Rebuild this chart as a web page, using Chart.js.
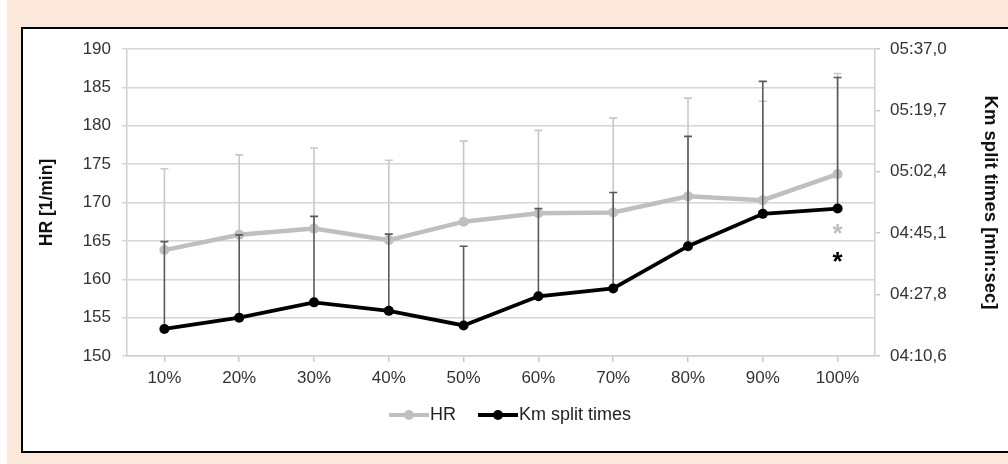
<!DOCTYPE html>
<html lang="en">
<head>
    <meta charset="UTF-8">
    <title>HR and Km split times</title>
    <script src="https://cdn.jsdelivr.net/npm/chart.js"></script>
    <style>
        html, body { margin: 0; padding: 0; }
        body { width: 1008px; height: 464px; background: #fbe8da; position: relative; overflow: hidden; }
        #strip { position: absolute; left: 0; top: 0; width: 7px; height: 464px; background: #fff; }
        #box { position: absolute; left: 21px; top: 27px; width: 987px; height: 422px;
               background: #fff; border-left: 2px solid #000; border-top: 2px solid #000; border-bottom: 2px solid #000; }
        #myChart { position: absolute; left: 0; top: 0; }
    </style>
</head>
<body>
    <div id="strip"></div>
    <div id="box"></div>
    <canvas id="myChart" width="1008" height="464"></canvas>

    <script>
        // datos
        var categories = ['10%', '20%', '30%', '40%', '50%', '60%', '70%', '80%', '90%', '100%'];
        var hrMean = [163.8, 165.8, 166.6, 165.1, 167.5, 168.6, 168.7, 170.8, 170.3, 173.7];
        var hrSd   = [10.6, 10.4, 10.5, 10.4, 10.5, 10.8, 12.3, 12.8, 12.9, 13.1];
        // tiempos por km en segundos
        var kmMean = [258.2, 261.4, 265.7, 263.3, 259.2, 267.4, 269.6, 281.5, 290.6, 292.1];
        var kmSd   = [24.6, 23.3, 24.2, 21.6, 22.3, 24.7, 27.0, 30.9, 37.3, 36.9];
        var kmTicks = [250.6, 267.88, 285.16, 302.44, 319.72, 337.0];
        var kmTickLabels = ['04:10,6', '04:27,8', '04:45,1', '05:02,4', '05:19,7', '05:37,0'];
        var asteriskHr = 166.5;   // asterisco gris (eje HR)
        var asteriskKm = 278.3;   // asterisco negro (eje km)

        var fontFam = '"Liberation Sans", Arial, sans-serif';

        // icono de leyenda: 20px vacios a la izquierda + linea con punto
        function legendIcon(color) {
            var c = document.createElement('canvas');
            c.width = 60; c.height = 12;
            var g = c.getContext('2d');
            g.strokeStyle = color; g.lineWidth = 4;
            g.beginPath(); g.moveTo(20, 6); g.lineTo(60, 6); g.stroke();
            g.fillStyle = color;
            g.beginPath(); g.arc(40, 6, 5, 0, Math.PI * 2); g.fill();
            return c;
        }

        var errorBars = {
            id: 'errorBars',
            beforeDatasetDraw: function(chart, args) {
                var ds = chart.data.datasets[args.index];
                if (!ds.sd) return;
                var meta = args.meta;
                var scale = chart.scales[ds.yAxisID];
                var ctx = chart.ctx;
                ctx.save();
                ctx.strokeStyle = ds.errColor;
                ctx.lineWidth = 1.6;
                meta.data.forEach(function(pt, i) {
                    var y0 = scale.getPixelForValue(ds.data[i]);
                    var y1 = scale.getPixelForValue(ds.data[i] + ds.sd[i]);
                    ctx.beginPath();
                    ctx.moveTo(pt.x, y0); ctx.lineTo(pt.x, y1);
                    ctx.moveTo(pt.x - 4, y1); ctx.lineTo(pt.x + 4, y1);
                    ctx.stroke();
                });
                ctx.restore();
            }
        };

        var asterisks = {
            id: 'asterisks',
            afterDatasetsDraw: function(chart) {
                var ctx = chart.ctx;
                var x = chart.scales.x.getPixelForValue(categories.length - 1);
                ctx.save();
                ctx.font = 'bold 26px ' + fontFam;
                ctx.textAlign = 'center';
                ctx.textBaseline = 'middle';
                ctx.fillStyle = '#c0c0c0';
                ctx.fillText('*', x, chart.scales.y.getPixelForValue(asteriskHr) + 5);
                ctx.fillStyle = '#000';
                ctx.fillText('*', x, chart.scales.y2.getPixelForValue(asteriskKm) + 5);
                ctx.restore();
            }
        };

        var ctx = document.getElementById('myChart').getContext('2d');
        var myChart = new Chart(ctx, {
            type: 'line',
            data: {
                labels: categories,
                datasets: [{
                    label: 'HR',
                    data: hrMean,
                    sd: hrSd,
                    errColor: '#c8c8c8',
                    yAxisID: 'y',
                    borderColor: '#bfbfbf',
                    backgroundColor: '#bfbfbf',
                    borderWidth: 4.5,
                    pointRadius: 5,
                    pointBorderWidth: 0,
                    tension: 0,
                    order: 1
                }, {
                    label: 'Km split times',
                    data: kmMean,
                    sd: kmSd,
                    errColor: '#5a5a5a',
                    yAxisID: 'y2',
                    borderColor: '#000',
                    backgroundColor: '#000',
                    borderWidth: 3.8,
                    pointRadius: 5,
                    pointBorderWidth: 0,
                    tension: 0,
                    order: 0
                }]
            },
            options: {
                responsive: false,
                animation: false,
                layout: { padding: { top: 49, left: 0, right: 0, bottom: 30 } },
                plugins: {
                    tooltip: { enabled: false },
                    legend: {
                        position: 'bottom',
                        labels: {
                            usePointStyle: true,
                            pointStyleWidth: 44,
                            padding: 10,
                            color: '#222',
                            font: { family: fontFam, size: 18 },
                            sort: function(a, b) { return a.datasetIndex - b.datasetIndex; },
                            generateLabels: function(chart) {
                                return chart.data.datasets.map(function(ds, i) {
                                    return {
                                        text: ds.label,
                                        datasetIndex: i,
                                        pointStyle: legendIcon(ds.borderColor),
                                        fillStyle: ds.borderColor,
                                        strokeStyle: ds.borderColor,
                                        lineWidth: 0,
                                        fontColor: '#222'
                                    };
                                });
                            }
                        }
                    }
                },
                scales: {
                    x: {
                        offset: true,
                        grid: { display: true, drawOnChartArea: false, offset: false, tickLength: 6, color: '#c8c8c8', lineWidth: 1.5 },
                        border: { display: true, color: '#d0d0d0', width: 1.5 },
                        ticks: { color: '#333', padding: 6, font: { family: fontFam, size: 17 } },
                        afterFit: function(s) { s.height = 40; }
                    },
                    y: {
                        position: 'left',
                        min: 150,
                        max: 190,
                        ticks: { stepSize: 5, color: '#333', padding: 11, font: { family: fontFam, size: 17 } },
                        grid: { color: '#d6d6d6', lineWidth: 1.5, tickLength: 5 },
                        border: { color: '#d0d0d0', width: 1.5 },
                        title: { display: true, text: 'HR [1/min]', color: '#111',
                                 font: { family: fontFam, size: 17.5, weight: 'bold' }, padding: { top: 37, bottom: 0 } },
                        afterFit: function(s) { s.width = 127; }
                    },
                    y2: {
                        position: 'right',
                        min: kmTicks[0],
                        max: kmTicks[kmTicks.length - 1],
                        afterBuildTicks: function(s) {
                            s.ticks = kmTicks.map(function(v) { return { value: v }; });
                        },
                        ticks: {
                            color: '#333', padding: 10, font: { family: fontFam, size: 17 },
                            callback: function(v, i) { return kmTickLabels[i]; }
                        },
                        grid: { drawOnChartArea: false, color: '#c8c8c8', lineWidth: 1.5, tickLength: 5 },
                        border: { color: '#d0d0d0', width: 1.5 },
                        title: { display: true, text: 'Km split times [min:sec]', color: '#111',
                                 font: { family: fontFam, size: 18.5, weight: 'bold' }, padding: { top: 7, bottom: 0 } },
                        afterFit: function(s) { s.width = 133; }
                    }
                }
            },
            plugins: [errorBars, asterisks]
        });
    </script>
</body>
</html>
